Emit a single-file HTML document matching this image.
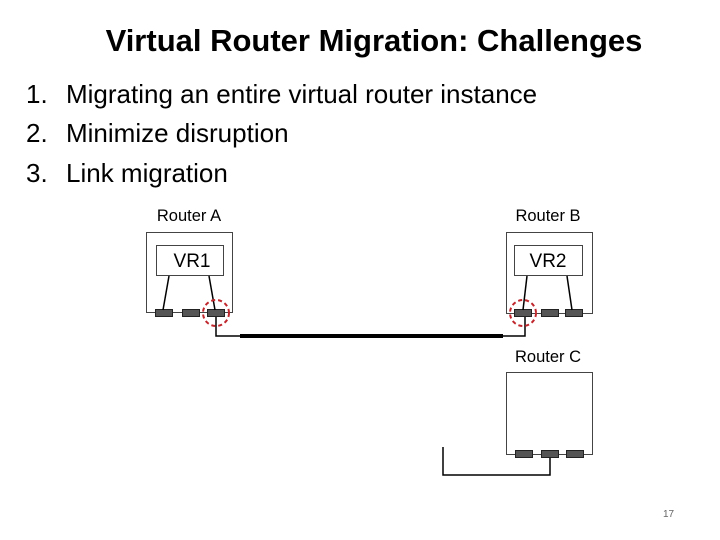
<!DOCTYPE html>
<html><head><style>
body{margin:0;width:720px;height:540px;background:#fff;position:relative;overflow:hidden;font-family:"Liberation Sans",sans-serif}
.t{position:absolute;white-space:nowrap;line-height:30px}
</style></head><body>
<div class="t" style="left:0;width:748px;text-align:center;top:26px;font-size:31px;font-weight:bold;color:#000">Virtual Router Migration: Challenges</div>
<div class="t" style="left:26px;top:79px;font-size:26px">1.</div><div class="t" style="left:66px;top:79px;font-size:26px">Migrating an entire virtual router instance</div>
<div class="t" style="left:26px;top:118px;font-size:26px">2.</div><div class="t" style="left:66px;top:118px;font-size:26px">Minimize disruption</div>
<div class="t" style="left:26px;top:158px;font-size:26px">3.</div><div class="t" style="left:66px;top:158px;font-size:26px">Link migration</div>
<div class="t" style="left:663px;top:500px;font-size:10px;color:#666">17</div>
<svg width="720" height="540" style="position:absolute;left:0;top:0" font-family="Liberation Sans,sans-serif" font-size="16.5">
<g fill="none" stroke="#444" stroke-width="1">
<rect x="146.5" y="232.5" width="86" height="80"/>
<rect x="156.5" y="245.5" width="67" height="30"/>
<rect x="506.5" y="232.5" width="86" height="81"/>
<rect x="514.5" y="245.5" width="68" height="30"/>
<rect x="506.5" y="372.5" width="86" height="82"/>
</g>
<g fill="#555" stroke="#222" stroke-width="1">
<rect x="155.5" y="309.5" width="17" height="7"/><rect x="182.5" y="309.5" width="17" height="7"/><rect x="207.5" y="309.5" width="17" height="7"/>
<rect x="514.5" y="309.5" width="17" height="7"/><rect x="541.5" y="309.5" width="17" height="7"/><rect x="565.5" y="309.5" width="17" height="7"/>
<rect x="515.5" y="450.5" width="17" height="7"/><rect x="541.5" y="450.5" width="17" height="7"/><rect x="566.5" y="450.5" width="17" height="7"/>
</g>
<g stroke="#000" stroke-width="1.5" fill="none">
<line x1="169" y1="276" x2="163" y2="310"/><line x1="209" y1="276" x2="215" y2="310"/>
<line x1="527" y1="276" x2="523" y2="310"/><line x1="567" y1="276" x2="572" y2="310"/>
<polyline points="216,317 216,336 240,336"/><polyline points="503,336 525,336 525,317"/>
<polyline points="550,458 550,475 443,475 443,447"/>
</g>
<line x1="240" y1="336" x2="503" y2="336" stroke="#000" stroke-width="4"/>
<g fill="none" stroke="#c0272d" stroke-width="2" stroke-dasharray="4,3">
<circle cx="216" cy="313" r="13"/><circle cx="523" cy="313" r="13"/>
</g>
<text x="189" y="221" text-anchor="middle">Router A</text>
<text x="548" y="221" text-anchor="middle">Router B</text>
<text x="548" y="362" text-anchor="middle">Router C</text>
<text x="192" y="267" text-anchor="middle" font-size="19">VR1</text>
<text x="548" y="267" text-anchor="middle" font-size="19">VR2</text>
</svg>
</body></html>
